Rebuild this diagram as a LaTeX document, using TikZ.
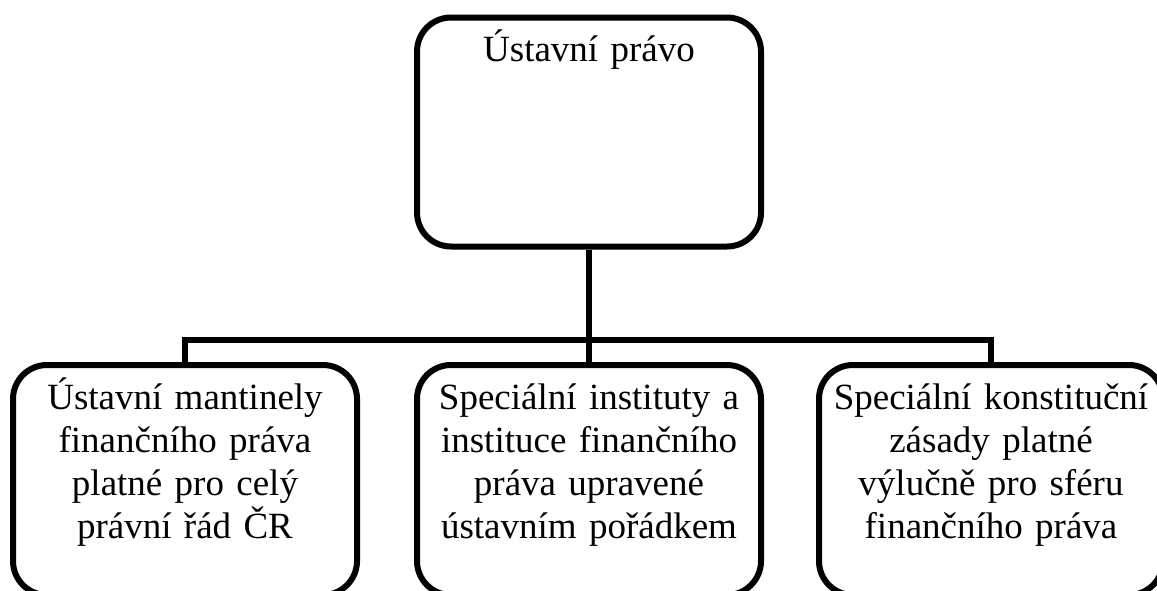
\documentclass[tikz,border=0pt]{standalone}
\usepackage{fontspec}
\setmainfont{Liberation Serif}
\usetikzlibrary{positioning}

\tikzset{
  lawbox/.style={draw,line width=3pt,rounded corners=17pt,minimum width=172pt,minimum height=#1},
  lawtext/.style={anchor=base,yshift=-23.5pt,text width=170pt,align=center,inner sep=0pt,
    font=\fontsize{18.5pt}{21.5pt}\selectfont}
}

\begin{document}
\begin{tikzpicture}[x=0.5pt,y=-0.5pt,node distance=2cm,on grid,line width=3pt]
		\useasboundingbox (0,0) rectangle (1157,590);
		\node[lawbox=114.5pt,label={[lawtext]north:Ústavní právo}] (law) at (589,132) {};
		\node[lawbox=115pt,below=174pt of law,
		  label={[lawtext]north:Speciální instituty a\\instituce finančního\\práva upravené\\ústavním pořádkem}] (mid) {};
		\node[lawbox=115pt,left=202pt of mid,
		  label={[lawtext]north:Ústavní mantinely\\finančního práva\\platné pro celý\\právní řád ČR}] (left) {};
		\node[lawbox=115pt,right=201pt of mid,
		  label={[lawtext]north:Speciální konstituční\\zásady platné\\výlučně pro sféru\\finančního práva}] (right) {};
		\coordinate (bar) at (589,340);
		\draw (law) -- (mid);
		\draw (left) |- (bar) -| (right);
\end{tikzpicture}
\end{document}
